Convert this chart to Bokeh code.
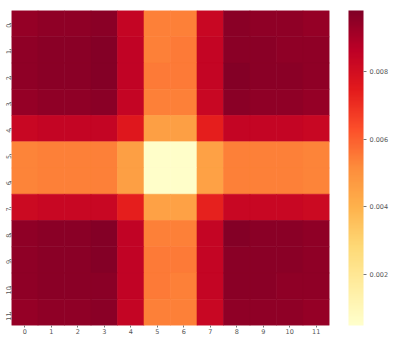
from bokeh.plotting import figure
from bokeh.models import LinearColorMapper, ColorBar, FixedTicker, ColumnDataSource
from bokeh.embed import file_html
from bokeh.resources import INLINE

col_labels = ["0", "1", "2", "3", "4", "5", "6", "7", "8", "9", "10", "11"]
row_labels = ["0", "1", "2", "3", "4", "5", "6", "7", "8", "9", "10", "11"]

row_0 = [0.0094, 0.0095, 0.0095, 0.0096, 0.0084, 0.0054, 0.0054, 0.0083, 0.0096, 0.0095, 0.0095, 0.0094]
row_1 = [0.0095, 0.0096, 0.0096, 0.0097, 0.0085, 0.0054, 0.0055, 0.0084, 0.0096, 0.0096, 0.0095, 0.0095]
row_2 = [0.0095, 0.0096, 0.0096, 0.0097, 0.0085, 0.0055, 0.0055, 0.0084, 0.0097, 0.0096, 0.0096, 0.0095]
row_3 = [0.0094, 0.0095, 0.0095, 0.0096, 0.0084, 0.0054, 0.0054, 0.0083, 0.0096, 0.0095, 0.0095, 0.0094]
row_4 = [0.0083, 0.0084, 0.0084, 0.0084, 0.0076, 0.0046, 0.0046, 0.0074, 0.0084, 0.0084, 0.0084, 0.0083]
row_5 = [0.0053, 0.0054, 0.0054, 0.0054, 0.0046, 0.0006, 0.0006, 0.0045, 0.0054, 0.0054, 0.0054, 0.0053]
row_6 = [0.0053, 0.0054, 0.0054, 0.0054, 0.0046, 0.0006, 0.0006, 0.0045, 0.0054, 0.0054, 0.0054, 0.0053]
row_7 = [0.0082, 0.0083, 0.0083, 0.0083, 0.0074, 0.0045, 0.0045, 0.0073, 0.0083, 0.0083, 0.0083, 0.0082]
row_8 = [0.0095, 0.0096, 0.0096, 0.0097, 0.0085, 0.0054, 0.0054, 0.0084, 0.0097, 0.0096, 0.0096, 0.0095]
row_9 = [0.0095, 0.0096, 0.0096, 0.0097, 0.0085, 0.0055, 0.0055, 0.0084, 0.0096, 0.0096, 0.0096, 0.0095]
row_10 = [0.0095, 0.0096, 0.0096, 0.0096, 0.0085, 0.0055, 0.0054, 0.0084, 0.0096, 0.0096, 0.0095, 0.0095]
row_11 = [0.0094, 0.0095, 0.0095, 0.0096, 0.0084, 0.0054, 0.0054, 0.0083, 0.0095, 0.0095, 0.0095, 0.0094]
values = [row_0, row_1, row_2, row_3, row_4, row_5, row_6, row_7, row_8, row_9, row_10, row_11]

colorbar_ticks = [0.002, 0.004, 0.006, 0.008]
color_low, color_high = 0.0005, 0.0098

# matplotlib YlOrRd anchors, light -> dark
anchors = ["#ffffcc", "#ffeda0", "#fed976", "#feb24c", "#fd8d3c",
           "#fc4e2a", "#e31a1c", "#bd0026", "#800026"]


def hex2rgb(h):
    return tuple(int(h[i:i + 2], 16) for i in (1, 3, 5))


palette = []
n = 256
for k in range(n):
    t = k / (n - 1) * (len(anchors) - 1)
    i = min(int(t), len(anchors) - 2)
    f = t - i
    a, b = hex2rgb(anchors[i]), hex2rgb(anchors[i + 1])
    c = tuple(round(a[j] + (b[j] - a[j]) * f) for j in range(3))
    palette.append("#%02x%02x%02x" % c)

mapper = LinearColorMapper(palette=palette, low=color_low, high=color_high)

xs, ys, vs = [], [], []
for r, row in enumerate(values):
    for c, v in enumerate(row):
        xs.append(col_labels[c])
        ys.append(row_labels[r])
        vs.append(v)
source = ColumnDataSource(dict(x=xs, y=ys, v=vs))

p = figure(x_range=col_labels, y_range=list(reversed(row_labels)),
           frame_width=318, frame_height=315,
           output_backend="svg", toolbar_location=None,
           min_border_left=0, min_border_top=10, min_border_right=0, min_border_bottom=0)

p.rect(x="x", y="y", width=1, height=1, source=source,
       fill_color={"field": "v", "transform": mapper},
       line_color={"field": "v", "transform": mapper}, line_width=0.6)

p.grid.visible = False
p.outline_line_color = None
p.background_fill_color = "white"

for ax in (p.xaxis[0], p.yaxis[0]):
    ax.axis_line_color = None
    ax.major_tick_line_color = "#777777"
    ax.major_tick_in = 0
    ax.major_tick_out = 2
    ax.minor_tick_line_color = None
    ax.major_label_text_font_size = "6.5px"
    ax.major_label_text_color = "#555555"
    ax.major_label_text_font = "DejaVu Sans"
    ax.major_label_standoff = 1
p.yaxis[0].major_label_orientation = 1.5708

cb = ColorBar(color_mapper=mapper, ticker=FixedTicker(ticks=colorbar_ticks),
              width=15, height=315, padding=0, margin=0, location=(19, 0),
              bar_line_color=None, major_tick_in=0, major_tick_out=3,
              major_tick_line_color="#777777", minor_tick_line_color=None,
              major_label_text_font_size="6.5px", major_label_text_color="#555555",
              major_label_text_font="DejaVu Sans", label_standoff=3,
              background_fill_color=None, border_line_color=None)
p.add_layout(cb, "right")

open("out.html", "w").write(file_html(p, INLINE))
